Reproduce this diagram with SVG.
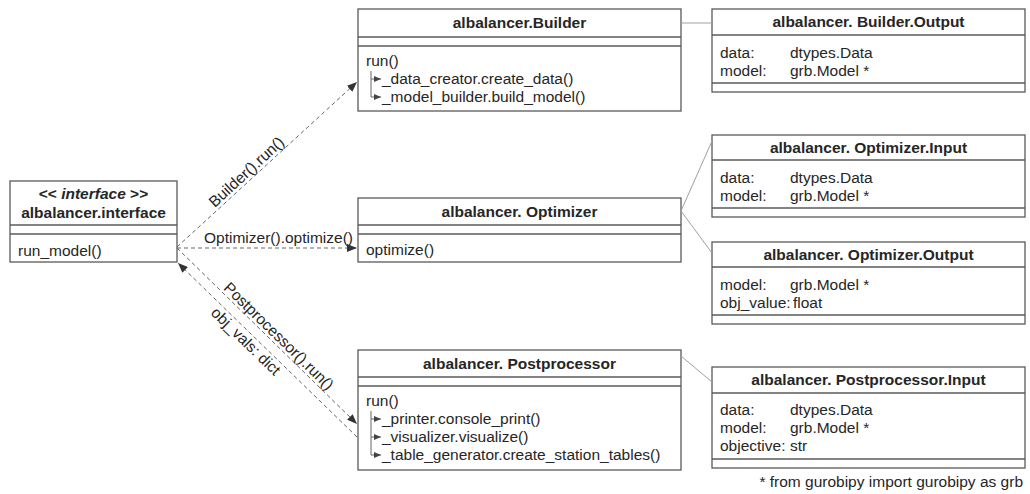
<svg xmlns="http://www.w3.org/2000/svg" width="1030" height="494" viewBox="0 0 1030 494">
<defs>
<marker id="arr" viewBox="0 0 10 8" refX="10" refY="4" markerWidth="10" markerHeight="8" markerUnits="userSpaceOnUse" orient="auto"><path d="M0,0 L10,4 L0,8 z" fill="#333"/></marker>
<marker id="tip" viewBox="0 0 7 6" refX="7" refY="3" markerWidth="7" markerHeight="6" markerUnits="userSpaceOnUse" orient="auto"><path d="M0,0 L7,3 L0,6 z" fill="#444"/></marker>
</defs>
<style>
.box{fill:#fff;stroke:#5a5a5a;stroke-width:1.3}
.ln{stroke:#5a5a5a;stroke-width:1.3}
text{font-family:"Liberation Sans",Arial,sans-serif;font-size:15.5px;fill:#262626}
.t{font-weight:bold;text-anchor:middle}
.dash{stroke:#666;stroke-width:1;stroke-dasharray:4,3;fill:none}
.rel{stroke:#a0a0a0;stroke-width:1;fill:none}
.tree{stroke:#666;stroke-width:1;fill:none}
</style>
<rect width="1030" height="494" fill="#fff"/>

<g id="interface">
<rect class="box" x="10" y="181" width="167" height="81"/>
<line class="ln" x1="10" y1="225" x2="177" y2="225"/>
<line class="ln" x1="10" y1="234" x2="177" y2="234"/>
<text class="t" x="93.5" y="199">&lt;&lt; <tspan font-style="italic">interface</tspan> &gt;&gt;</text>
<text class="t" x="93.5" y="218">albalancer.interface</text>
<text x="18" y="256">run_model()</text>
</g>

<g id="builder">
<rect class="box" x="358" y="9" width="323" height="102"/>
<line class="ln" x1="358" y1="37" x2="681" y2="37"/>
<line class="ln" x1="358" y1="46" x2="681" y2="46"/>
<text class="t" x="519.5" y="28">albalancer.Builder</text>
<text x="366" y="66">run()</text>
<path class="tree" d="M371,71 V97"/>
<line class="tree" x1="371" y1="79" x2="381" y2="79" marker-end="url(#tip)"/>
<line class="tree" x1="371" y1="97" x2="381" y2="97" marker-end="url(#tip)"/>
<text x="382" y="84">_data_creator.create_data()</text>
<text x="382" y="102">_model_builder.build_model()</text>
</g>

<g id="builder-output">
<rect class="box" x="712" y="9" width="313" height="83"/>
<line class="ln" x1="712" y1="35" x2="1025" y2="35"/>
<line class="ln" x1="712" y1="83" x2="1025" y2="83"/>
<text class="t" x="868.5" y="27">albalancer. Builder.Output</text>
<text x="720" y="58">data:</text><text x="790" y="58">dtypes.Data</text>
<text x="720" y="76">model:</text><text x="790" y="76">grb.Model *</text>
</g>

<g id="optimizer">
<rect class="box" x="358" y="198" width="323" height="64"/>
<line class="ln" x1="358" y1="225" x2="681" y2="225"/>
<line class="ln" x1="358" y1="234" x2="681" y2="234"/>
<text class="t" x="519.5" y="217">albalancer. Optimizer</text>
<text x="366" y="255">optimize()</text>
</g>

<g id="optimizer-input">
<rect class="box" x="712" y="135" width="313" height="82"/>
<line class="ln" x1="712" y1="160" x2="1025" y2="160"/>
<line class="ln" x1="712" y1="208" x2="1025" y2="208"/>
<text class="t" x="868.5" y="153">albalancer. Optimizer.Input</text>
<text x="720" y="183">data:</text><text x="790" y="183">dtypes.Data</text>
<text x="720" y="201">model:</text><text x="790" y="201">grb.Model *</text>
</g>

<g id="optimizer-output">
<rect class="box" x="712" y="242" width="313" height="82"/>
<line class="ln" x1="712" y1="267" x2="1025" y2="267"/>
<line class="ln" x1="712" y1="315" x2="1025" y2="315"/>
<text class="t" x="868.5" y="260">albalancer. Optimizer.Output</text>
<text x="720" y="290">model:</text><text x="790" y="290">grb.Model *</text>
<text x="720" y="308">obj_value:</text><text x="793" y="308">float</text>
</g>

<g id="postprocessor">
<rect class="box" x="358" y="350" width="323" height="120"/>
<line class="ln" x1="358" y1="377" x2="681" y2="377"/>
<line class="ln" x1="358" y1="386" x2="681" y2="386"/>
<text class="t" x="519.5" y="369">albalancer. Postprocessor</text>
<text x="366" y="406">run()</text>
<path class="tree" d="M371,411 V455"/>
<line class="tree" x1="371" y1="419" x2="381" y2="419" marker-end="url(#tip)"/>
<line class="tree" x1="371" y1="437" x2="381" y2="437" marker-end="url(#tip)"/>
<line class="tree" x1="371" y1="455" x2="381" y2="455" marker-end="url(#tip)"/>
<text x="382" y="424">_printer.console_print()</text>
<text x="382" y="442">_visualizer.visualize()</text>
<text x="382" y="460">_table_generator.create_station_tables()</text>
</g>

<g id="postprocessor-input">
<rect class="box" x="712" y="367" width="313" height="101"/>
<line class="ln" x1="712" y1="393" x2="1025" y2="393"/>
<line class="ln" x1="712" y1="459" x2="1025" y2="459"/>
<text class="t" x="868.5" y="385">albalancer. Postprocessor.Input</text>
<text x="720" y="415">data:</text><text x="790" y="415">dtypes.Data</text>
<text x="720" y="433">model:</text><text x="790" y="433">grb.Model *</text>
<text x="720" y="451">objective:</text><text x="790" y="451">str</text>
</g>

<g id="footnote">
<text x="1023" y="487" text-anchor="end">* from gurobipy import gurobipy as grb</text>
</g>

<g id="connectors">
<line class="rel" x1="681" y1="23" x2="712" y2="23"/>
<line class="rel" x1="681" y1="211" x2="712" y2="141"/>
<line class="rel" x1="681" y1="211" x2="712" y2="253"/>
<line class="rel" x1="681" y1="356" x2="712" y2="382"/>
<line class="dash" x1="177" y1="247" x2="357" y2="82" marker-end="url(#arr)"/>
<line class="dash" x1="177" y1="248" x2="357" y2="248" marker-end="url(#arr)"/>
<line class="dash" x1="177" y1="248" x2="357" y2="424" marker-end="url(#arr)"/>
<line class="dash" x1="357" y1="437" x2="178" y2="263" marker-end="url(#arr)"/>
<text transform="translate(252,178) rotate(-42.5)" x="0" y="-3" text-anchor="middle">Builder().run()</text>
<text x="204" y="243">Optimizer().optimize()</text>
<text transform="translate(273,342) rotate(44.35)" x="0" y="-3" text-anchor="middle">Postprocessor().run()</text>
<text transform="translate(252,335) rotate(44.2)" x="0" y="14" text-anchor="middle">obj_vals: dict</text>
</g>
</svg>
